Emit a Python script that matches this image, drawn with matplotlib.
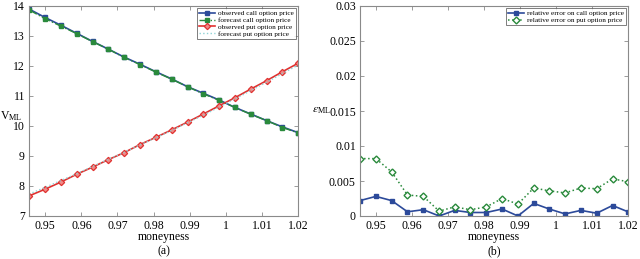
import matplotlib
matplotlib.use("Agg")
import matplotlib.pyplot as plt

plt.rcParams['font.family'] = ['Liberation Serif', 'DejaVu Serif']
plt.rcParams['mathtext.fontset'] = 'stix'

moneyness = [0.9455, 0.9499, 0.9543, 0.9587, 0.9631, 0.9675, 0.9718, 0.9762, 0.9806,
             0.9850, 0.9894, 0.9938, 0.9981, 1.0025, 1.0069, 1.0113, 1.0157, 1.0200]

call_obs = [13.90, 13.62, 13.36, 13.09, 12.82, 12.56, 12.30, 12.06, 11.81,
            11.57, 11.31, 11.09, 10.87, 10.62, 10.40, 10.18, 9.97, 9.78]
call_fc = [13.87, 13.58, 13.33, 13.08, 12.81, 12.56, 12.29, 12.05, 11.80,
           11.56, 11.31, 11.07, 10.86, 10.62, 10.39, 10.18, 9.95, 9.77]
put_obs = [7.67, 7.89, 8.13, 8.39, 8.63, 8.88, 9.11, 9.38, 9.62,
           9.87, 10.13, 10.40, 10.67, 10.94, 11.23, 11.51, 11.81, 12.09]
put_fc = [7.73, 7.95, 8.18, 8.41, 8.65, 8.89, 9.12, 9.37, 9.61,
          9.85, 10.11, 10.36, 10.63, 10.90, 11.18, 11.46, 11.75, 12.03]

err_call = [0.0022, 0.0028, 0.0022, 0.0006, 0.0009, 0.0000, 0.0008, 0.0005, 0.0005,
            0.0010, 0.0000, 0.0018, 0.0010, 0.0003, 0.0008, 0.0004, 0.0015, 0.0006]
err_put = [0.0082, 0.0082, 0.0063, 0.0030, 0.0028, 0.0007, 0.0013, 0.0009, 0.0013,
           0.0025, 0.0017, 0.0040, 0.0036, 0.0033, 0.0040, 0.0039, 0.0053, 0.0049]

xticks = [0.95, 0.96, 0.97, 0.98, 0.99, 1.0, 1.01, 1.02]
xticklabels = ['0.95', '0.96', '0.97', '0.98', '0.99', '1', '1.01', '1.02']
yticks_a = [7, 8, 9, 10, 11, 12, 13, 14]
yticks_b = [0, 0.005, 0.01, 0.015, 0.02, 0.025, 0.03]
yticklabels_b = ['0', '0.005', '0.01', '0.015', '0.02', '0.025', '0.03']

BLUE = '#2c4a9a'
GREEN = '#2a8a3c'
RED = '#e0312f'
CYAN = '#8fd3d6'
SPINE = '#8a8a8a'

W, H = 640, 259
fig = plt.figure(figsize=(6.4, 2.59), dpi=100)
axa = fig.add_axes([29/W, 1-216/H, 269/W, 210/H])
axb = fig.add_axes([360/W, 1-216/H, 268/W, 210/H])

def style(ax):
    ax.tick_params(direction='in', top=True, right=True, labelsize=8.5,
                   length=3, width=0.6, color=SPINE, pad=3)
    for s in ax.spines.values():
        s.set_color(SPINE)
        s.set_linewidth(0.8)
    ax.set_xlim(0.9455, 1.0200)
    ax.set_xticks(xticks)
    ax.set_xticklabels(xticklabels)

# (a)
axa.plot(moneyness, call_obs, color=BLUE, lw=1.2, marker='s', ms=3.2,
         mfc=BLUE, mec=BLUE, label='observed call option price')
axa.plot(moneyness, call_fc, color=GREEN, lw=1.0, ls='-.', marker='s', ms=3.2,
         mfc=GREEN, mec=GREEN, label='forecast call option price')
axa.plot(moneyness, put_obs, color=RED, lw=1.2, marker='D', ms=3.2,
         mfc='#f08a88', mec=RED, mew=0.9, label='observed put option price')
axa.plot(moneyness, put_fc, color=CYAN, lw=1.0, ls=':',
         label='forecast put option price')
style(axa)
axa.set_ylim(7, 14)
axa.set_yticks(yticks_a)
leg = axa.legend(loc='upper right', fontsize=5.2, frameon=True, fancybox=False,
                 edgecolor='#444444', borderpad=0.3, labelspacing=0.1,
                 handlelength=2.2, handletextpad=0.4, borderaxespad=0.3)
leg.get_frame().set_linewidth(0.6)

# (b)
axb.plot(moneyness, err_call, color=BLUE, lw=1.2, marker='s', ms=3.2,
         mfc=BLUE, mec=BLUE, label='relative error on call option price')
axb.plot(moneyness, err_put, color=GREEN, lw=1.1, ls=':', marker='D', ms=3.5,
         mfc='white', mec=GREEN, mew=1.0, label='relative error on put option price')
style(axb)
axb.set_ylim(0, 0.03)
axb.set_yticks(yticks_b)
axb.set_yticklabels(yticklabels_b)
leg2 = axb.legend(loc='upper right', fontsize=5.2, frameon=True, fancybox=False,
                  edgecolor='#444444', borderpad=0.3, labelspacing=0.1,
                  handlelength=2.2, handletextpad=0.4, borderaxespad=0.3)
leg2.get_frame().set_linewidth(0.6)

# axis labels
fig.text(11/W, 1-116/H, r'V$_{\mathregular{ML}}$', ha='center', va='center', fontsize=8.5)
fig.text(331/W, 1-110/H, r'$\epsilon_{\mathregular{ML}}$', ha='right', va='center', fontsize=8.5)
fig.text((29 + 269/2)/W, 1-237/H, 'moneyness', ha='center', va='center', fontsize=8.5)
fig.text((360 + 268/2)/W, 1-237/H, 'moneyness', ha='center', va='center', fontsize=8.5)
fig.text((29 + 269/2)/W, 1-251/H, '(a)', ha='center', va='center', fontsize=8.5)
fig.text((360 + 268/2)/W, 1-251/H, '(b)', ha='center', va='center', fontsize=8.5)

fig.savefig('out.png', dpi=100)
